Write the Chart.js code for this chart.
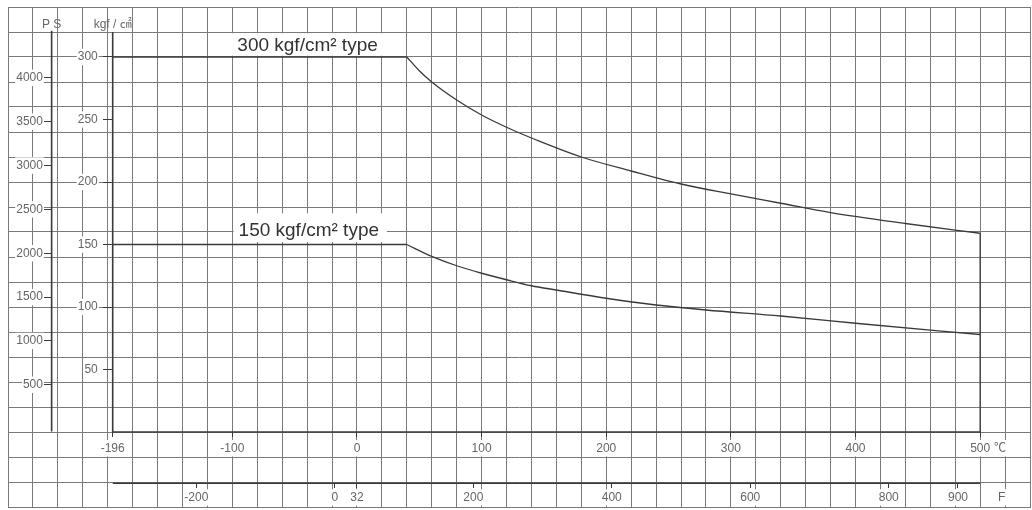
<!DOCTYPE html>
<html>
<head>
<meta charset="utf-8">
<script src="https://cdn.jsdelivr.net/npm/chart.js@4/dist/chart.umd.min.js"></script>
<style>
  html, body { margin: 0; padding: 0; background: #fff; }
  #wrap { width: 1032px; height: 510px; }
</style>
</head>
<body>
<div id="wrap"><canvas id="chart"></canvas></div>
<script>
// 300 kgf/cm² type : allowable pressure vs temperature (°C)
const highTemps = [-196, 40, 50, 60, 80, 100, 120, 144, 180, 220, 260, 300, 340, 380, 440, 500];
const highPressure = [300, 300, 289, 280, 265.6, 253.6, 243.8, 233.6, 220, 208.8, 198.4, 190.5, 183, 175.5, 166.8, 159];

// 150 kgf/cm² type
const lowTemps = [-196, 40, 60, 80, 100, 120, 140, 160, 200, 240, 280, 340, 400, 500];
const lowPressure = [150, 150, 140.5, 133, 127, 121.8, 117, 113.6, 107, 101.6, 97.6, 92.8, 87, 78];

const seriesLabels = ['300 kgf/cm² type', '150 kgf/cm² type'];

// tick labels
const kgfTicks = [50, 100, 150, 200, 250, 300];
const psTicks = [500, 1000, 1500, 2000, 2500, 3000, 3500, 4000];
const celsiusTicks = [-196, -100, 0, 100, 200, 300, 400, 500];
const fahrenheitTicks = [-200, 0, 32, 200, 400, 600, 800, 900];

// sheet layout (whole page is one squared sheet, 20 units per cell)
const X_MIN = -280, X_MAX = 540;
const Y_MIN = -60, Y_MAX = 340;
const GRID_STEP = 20;
const KGF_AXIS_AT = -196, KGF_LABELS_AT = -208;
const PS_AXIS_AT = -245, PS_LABELS_AT = -252;
const PS_ZERO = 2.65, PS_PER_KGF = 14.25;
const F_AXIS_AT = -41;
const AXIS_TOP = 320;
const C_UNIT_AT = 516, F_UNIT_AT = 963;

const GRID_COLOR = '#7a7a7a';
const LINE_COLOR = '#3a3a3a';
const TEXT_COLOR = '#666';
const FONT = "'Liberation Sans', Arial, 'Noto Sans CJK JP', sans-serif";

const toF = c => c * 1.8 + 32;
const toPoints = (xs, ys) => xs.map((x, i) => ({ x, y: ys[i] }));

const highPts = toPoints(highTemps, highPressure);
const lowPts = toPoints(lowTemps, lowPressure);
const lastTemp = highTemps[highTemps.length - 1];

const line = (data, extra) => Object.assign({
  data, borderColor: LINE_COLOR, borderWidth: 1.3, pointRadius: 0,
  fill: false, tension: 0, xAxisID: 'x', yAxisID: 'y'
}, extra);

// curve names and axis titles, placed in data space
const curveLabelPlugin = {
  id: 'curveLabels',
  beforeDatasetsDraw(chart) {
    const { ctx } = chart;
    const x = chart.scales.x, y = chart.scales.y;
    const labels = [
      { text: seriesLabels[0], at: -96, level: highPressure[0], dy: -6, box: [-105, 30, 301, 319] },
      { text: seriesLabels[1], at: -95, level: lowPressure[0], dy: -9, box: [-99, 24, 152, 175] }
    ];
    ctx.save();
    labels.forEach(l => {
      const bx1 = x.getPixelForValue(l.box[0]), bx2 = x.getPixelForValue(l.box[1]);
      const by1 = y.getPixelForValue(l.box[3]), by2 = y.getPixelForValue(l.box[2]);
      ctx.fillStyle = '#fff';
      ctx.fillRect(bx1, by1, bx2 - bx1, by2 - by1);
      ctx.font = '19px ' + FONT;
      ctx.fillStyle = '#333';
      ctx.textBaseline = 'alphabetic';
      ctx.textAlign = 'left';
      ctx.fillText(l.text, x.getPixelForValue(l.at), y.getPixelForValue(l.level) + l.dy);
    });

    ctx.font = '12px ' + FONT;
    ctx.fillStyle = TEXT_COLOR;
    ctx.textAlign = 'center';
    ctx.textBaseline = 'middle';
    const ty = y.getPixelForValue(325.5);
    ctx.fillText('P S', x.getPixelForValue(PS_AXIS_AT), ty);
    ctx.fillText('kgf / ㎠', x.getPixelForValue(KGF_AXIS_AT), ty);
    ctx.restore();
  }
};

const tickFont = { family: FONT, size: 12 };
const setTicks = values => scale => { scale.ticks = values.map(v => ({ value: v })); };
const noPadding = scale => {
  scale.paddingTop = 0; scale.paddingBottom = 0;
  scale.paddingLeft = 0; scale.paddingRight = 0;
};
const labelTicks = (extra) => Object.assign({
  font: tickFont, color: TEXT_COLOR, padding: 0, autoSkip: false, maxRotation: 0,
  showLabelBackdrop: true, backdropColor: '#fff', backdropPadding: 1,
  callback: v => String(v)
}, extra);

// vertical axis split in two: one scale for the marks, one for the labels
const yMarks = (at, min, max, values, len) => ({
  type: 'linear', axis: 'y', position: { x: at }, min, max,
  afterBuildTicks: setTicks(values), afterFit: noPadding,
  ticks: { display: false },
  grid: { drawOnChartArea: false, tickLength: len, color: LINE_COLOR },
  border: { display: false }
});
const yLabels = (at, min, max, values) => ({
  type: 'linear', axis: 'y', position: { x: at }, min, max,
  afterBuildTicks: setTicks(values), afterFit: noPadding,
  ticks: labelTicks({}),
  grid: { display: false },
  border: { display: false }
});

const psMin = (Y_MIN - PS_ZERO) * PS_PER_KGF, psMax = (Y_MAX - PS_ZERO) * PS_PER_KGF;

new Chart(document.getElementById('chart'), {
  type: 'line',
  data: {
    datasets: [
      line(highPts.slice(0, 2)),
      line(highPts.slice(1), { cubicInterpolationMode: 'monotone' }),
      line(lowPts.slice(0, 2)),
      line(lowPts.slice(1), { cubicInterpolationMode: 'monotone' }),
      line([{ x: lastTemp, y: highPressure[highPressure.length - 1] }, { x: lastTemp, y: 0 }]),
      // axis lines
      line([{ x: KGF_AXIS_AT, y: 0 }, { x: KGF_AXIS_AT, y: AXIS_TOP }], { borderWidth: 1.6 }),
      line([{ x: PS_AXIS_AT, y: 0.5 }, { x: PS_AXIS_AT, y: AXIS_TOP + 1 }], { borderWidth: 1.6 }),
      line([{ x: KGF_AXIS_AT, y: 0 }, { x: lastTemp, y: 0 }], { borderWidth: 1.6 }),
      line([{ x: KGF_AXIS_AT, y: F_AXIS_AT }, { x: lastTemp, y: F_AXIS_AT }], { borderWidth: 1.6 })
    ]
  },
  options: {
    responsive: true,
    maintainAspectRatio: false,
    animation: false,
    events: [],
    layout: { padding: { left: 8, top: 7, right: 2, bottom: 3 } },
    plugins: { legend: { display: false }, tooltip: { enabled: false } },
    scales: {
      x: {
        type: 'linear', axis: 'x', position: 'bottom', min: X_MIN, max: X_MAX,
        ticks: { display: false, stepSize: GRID_STEP },
        grid: { color: GRID_COLOR, drawTicks: false, lineWidth: 1 },
        border: { display: true, color: GRID_COLOR }
      },
      y: {
        type: 'linear', axis: 'y', position: 'left', min: Y_MIN, max: Y_MAX,
        ticks: { display: false, stepSize: GRID_STEP },
        grid: { color: GRID_COLOR, drawTicks: false, lineWidth: 1 },
        border: { display: true, color: GRID_COLOR }
      },
      kgfMarks: yMarks(KGF_AXIS_AT, Y_MIN, Y_MAX, kgfTicks, 10),
      kgf: yLabels(KGF_LABELS_AT, Y_MIN, Y_MAX, kgfTicks),
      psMarks: yMarks(PS_AXIS_AT, psMin, psMax, psTicks, 8),
      ps: yLabels(PS_LABELS_AT, psMin, psMax, psTicks),
      celsius: {
        type: 'linear', axis: 'x', position: { y: 0 }, min: X_MIN, max: X_MAX,
        afterBuildTicks: setTicks(celsiusTicks.concat([C_UNIT_AT])), afterFit: noPadding,
        ticks: labelTicks({ padding: 4, callback: v => v === C_UNIT_AT ? '℃' : String(v) }),
        grid: { drawOnChartArea: false, tickLength: 5,
                color: c => c.tick && c.tick.value === C_UNIT_AT ? 'rgba(0,0,0,0)' : LINE_COLOR },
        border: { display: false }
      },
      fahrenheit: {
        type: 'linear', axis: 'x', position: { y: F_AXIS_AT }, min: toF(X_MIN), max: toF(X_MAX),
        afterBuildTicks: setTicks(fahrenheitTicks.concat([F_UNIT_AT])), afterFit: noPadding,
        ticks: labelTicks({ padding: 2, callback: v => v === F_UNIT_AT ? 'F' : String(v) }),
        grid: { drawOnChartArea: false, tickLength: 5,
                color: c => c.tick && c.tick.value === F_UNIT_AT ? 'rgba(0,0,0,0)' : LINE_COLOR },
        border: { display: false }
      }
    }
  },
  plugins: [curveLabelPlugin]
});
</script>
</body>
</html>
